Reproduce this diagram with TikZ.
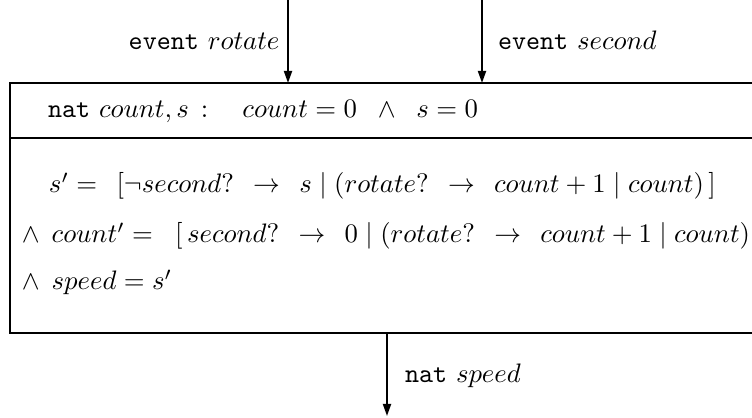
\documentclass[tikz,border=0pt]{standalone}
\usetikzlibrary{arrows.meta}
\begin{document}
\begin{tikzpicture}[x=0.374pt,y=-0.374pt,
  line/.style={line width=0.7pt},
  flow/.style={line width=0.7pt,-{Triangle[length=4.5pt,width=3pt]}},
  txt/.style={anchor=base west,inner sep=0pt,outer sep=0pt}]
\useasboundingbox (0,0) rectangle (752,418);
\clip (0,0) rectangle (752,418);
% box
\coordinate (tl) at (10,83);
\coordinate (tr) at (760,83);
\coordinate (ml) at (10,138);
\coordinate (mr) at (760,138);
\coordinate (bl) at (10,333);
\coordinate (br) at (760,333);
\draw[line] (tr) -- (tl) -- (bl) -- (br);
\draw[line] (ml) -- (mr);
% arrows
\coordinate (rotin) at (288,0);
\coordinate (rotbox) at (288,83);
\coordinate (secin) at (482,0);
\coordinate (secbox) at (482,83);
\coordinate (spdbox) at (387,333);
\coordinate (spdout) at (387,416);
\draw[flow] (rotin) -- (rotbox);
\draw[flow] (secin) -- (secbox);
\draw[flow] (spdbox) -- (spdout);
% labels
\node[anchor=base east,inner sep=0pt] (lrot) at (280,50) {\texttt{event} $rotate$};
\node[txt] (lsec) at (498,50) {\texttt{event} $second$};
\node[txt] (lspd) at (405,383) {\texttt{nat} $speed$};
% contents
\node[txt] (decl) at (48,118) {\texttt{nat} $count, s\,:\quad count = 0 \;\;\wedge\;\; s = 0$};
\node[txt] (l1) at (49,193) {$s' = \;\,[\neg second? \;\,\rightarrow\;\, s \mid (rotate? \;\,\rightarrow\;\, count + 1 \mid count)\,]$};
\node[txt] (l2) at (22,243) {$\wedge\;\, count' = \;\;[\,second? \;\,\rightarrow\;\, 0 \mid (rotate? \;\,\rightarrow\;\, count + 1 \mid count)\,]$};
\node[txt] (l3) at (22,290) {$\wedge\;\, speed = s'$};
\end{tikzpicture}
\end{document}
